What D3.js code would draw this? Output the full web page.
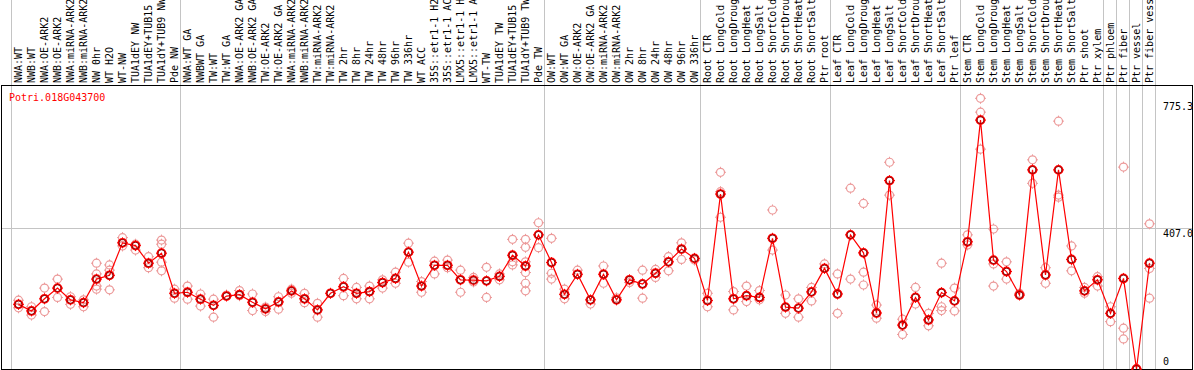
<!DOCTYPE html>
<html>
<head>
<meta charset="utf-8">
<script src="https://cdn.jsdelivr.net/npm/d3@7"></script>
<style>
  body { margin: 0; background: #fff; }
  svg text { font-family: "DejaVu Sans Mono", monospace; font-size: 10px; }
</style>
</head>
<body>
<div id="chart"></div>
<script>
// Sample labels (column headers)
var labels = [
  "NWA:WT", "NWB:WT", "NWA:OE-ARK2", "NWB:OE-ARK2", "NWA:miRNA-ARK2", "NWB:miRNA-ARK2",
  "NW 0hr", "WT H2O", "WT-NW", "TUA1dEY NW", "TUA1dEY+TUB15 NW", "TUA1dY+TUB9 NW", "Pde NW",
  "NWA:WT GA", "NWBWT GA", "TW:WT", "TW:WT GA", "NWA:OE-ARK2 GA", "NWB:OE-ARK2 GA",
  "TW:OE-ARK2", "TW:OE-ARK2 GA", "NWA:miRNA-ARK2 GA", "NWB:miRNA-ARK2 GA", "TW:miRNA-ARK2",
  "TW:miRNA-ARK2 GA", "TW 2hr", "TW 8hr", "TW 24hr", "TW 48hr", "TW 96hr", "TW 336hr",
  "WT ACC", "35S::etr1-1 H2O", "35S::etr1-1 ACC", "LMX5::etr1-1 H2O", "LMX5::etr1-1 ACC",
  "WT-TW", "TUA1dEY TW", "TUA1dEY+TUB15 TW", "TUA1dY+TUB9 TW", "Pde TW",
  "OW:WT", "OW:WT GA", "OW:OE-ARK2", "OW:OE-ARK2 GA", "OW:miRNA-ARK2", "OW:miRNA-ARK2 GA",
  "OW 2hr", "OW 8hr", "OW 24hr", "OW 48hr", "OW 96hr", "OW 336hr",
  "Root CTR", "Root LongCold", "Root LongDrought", "Root LongHeat", "Root LongSalt",
  "Root ShortCold", "Root ShortDrought", "Root ShortHeat", "Root ShortSalt", "Ptr root",
  "Leaf CTR", "Leaf LongCold", "Leaf LongDrought", "Leaf LongHeat", "Leaf LongSalt",
  "Leaf ShortCold", "Leaf ShortDrought", "Leaf ShortHeat", "Leaf ShortSalt", "Ptr leaf",
  "Stem CTR", "Stem LongCold", "Stem LongDrought", "Stem LongHeat", "Stem LongSalt",
  "Stem ShortCold", "Stem ShortDrought", "Stem ShortHeat", "Stem ShortSalt", "Ptr shoot", "Ptr xylem",
  "Ptr phloem", "Ptr fiber", "Ptr vessel", "Ptr fiber vessel"
];

// Mean expression per sample
var means = [
  187, 168, 203, 234, 200, 192, 260, 271, 365, 357, 306, 335, 219,
  222, 202, 184, 211, 215, 193, 174, 194, 226, 203, 171, 219, 238, 219, 224, 250, 262,
  338, 240, 300, 300, 258, 257, 255, 268, 329, 298, 388,
  308, 216, 274, 200, 274, 200, 258, 246, 277, 310, 347, 320,
  198, 506, 203, 212, 207, 378, 179, 176, 223, 291,
  217, 388, 336, 162, 545, 127, 207, 142, 221, 197,
  368, 720, 315, 282, 214, 576, 272, 576, 317, 226, 258,
  161, 262, 0, 306
];

// Individual replicate values per sample
var replicates = [
  [199, 177], [180, 156], [234, 166], [260, 207], [209, 187], [200, 180],
  [306, 275, 240, 231], [301, 286, 229], [380, 356], [361, 344], [325, 293],
  [373, 361, 309, 284], [231, 205],
  [240, 202], [217, 182], [202, 150], [214], [227, 212], [217, 169], [179, 166],
  [209, 173], [231, 219], [219, 192], [190, 150], [], [262, 212], [236, 203],
  [240, 203], [258, 234], [280, 248], [364, 309], [253, 222], [312, 275], [315, 293],
  [286, 222], [265, 252], [294, 207], [275, 258], [375, 310, 301],
  [375, 352, 310, 279, 248, 226], [423, 351],
  [378, 277, 260], [231, 203], [286], [188], [298, 248], [206], [250], [286, 205],
  [288, 265], [325, 284], [365, 317], [315],
  [219, 180], [569, 513, 439], [224, 171], [240, 195], [227, 200], [460, 344],
  [214, 161], [203, 150], [236, 197], [304],
  [275, 161], [523, 260], [479, 280, 243], [185, 147], [598, 503], [144, 100],
  [236, 188], [161, 125], [306, 180, 169], [234, 168],
  [388, 359], [783, 743, 636], [405, 304, 240], [310, 260], [219], [605, 537],
  [293, 248], [717, 503, 497], [356, 284], [236, 219], [267, 240],
  [180, 137], [584, 118, 87], [], [420, 291, 205]
];

// Index of the first sample of each tissue group (group separators)
var groupStarts = [0, 13, 41, 53, 63, 73, 84, 85, 86, 87, 88];

var axisValues = [775.3, 407.0, 0];
var geneName = "Potri.018G043700";

var svgWidth = 1194;
var svgHeight = 370;
var headerBottom = 85;

var svg = d3.select("#chart")
  .append("svg")
  .attr("width", svgWidth)
  .attr("height", svgHeight);

var x = d3.scaleBand()
  .domain(d3.range(labels.length))
  .range([11, 11 + 13 * labels.length]);

var y = d3.scaleLinear().domain([0, 407]).range([369, 228.3]);

function cx(i) { return x(i) + x.bandwidth() / 2 + 1; }

// Gray separators and the mid gridline
svg.selectAll(".sep")
  .data(groupStarts)
  .enter()
  .append("line")
  .attr("x1", function(d) { return d < labels.length ? x(d) + 0.5 : x(d - 1) + x.bandwidth() + 0.5; })
  .attr("x2", function(d) { return d < labels.length ? x(d) + 0.5 : x(d - 1) + x.bandwidth() + 0.5; })
  .attr("y1", 0)
  .attr("y2", svgHeight)
  .attr("stroke", "#c4c4c4");

svg.append("line")
  .attr("x1", 1).attr("x2", 1193)
  .attr("y1", Math.round(y(407)) + 0.5).attr("y2", Math.round(y(407)) + 0.5)
  .attr("stroke", "#c4c4c4");

// Black frame under the header
svg.append("rect")
  .attr("x", 1.5).attr("y", headerBottom + 0.5)
  .attr("width", 1191).attr("height", 369 - headerBottom)
  .attr("fill", "none")
  .attr("stroke", "#000");

// Column headers
svg.selectAll(".lbl")
  .data(labels)
  .enter()
  .append("text")
  .attr("transform", function(d, i) {
    return "translate(" + (x(i) + 10.5) + "," + (headerBottom - 2) + ") rotate(-90)";
  })
  .text(function(d) { return d; });

// Gene name
svg.append("text")
  .attr("x", 9).attr("y", 101)
  .attr("fill", "#ff0000")
  .text(geneName);

// Right-side value labels
svg.selectAll(".ax")
  .data(axisValues)
  .enter()
  .append("text")
  .attr("x", 1163)
  .attr("y", function(d) { return d === 0 ? y(d) - 4 : y(d) + 9; })
  .text(function(d) { return d === 0 ? "0" : d.toFixed(1); });

// Marker: small circle with tick marks
function marker(g, px, py, color, width) {
  g.append("circle")
    .attr("cx", px).attr("cy", py).attr("r", 4)
    .attr("fill", "none").attr("stroke", color).attr("stroke-width", width);
  [[0, -1], [0, 1], [-1, 0], [1, 0]].forEach(function(o) {
    g.append("line")
      .attr("x1", px + o[0] * 4).attr("y1", py + o[1] * 4)
      .attr("x2", px + o[0] * 5.5).attr("y2", py + o[1] * 5.5)
      .attr("stroke", color).attr("stroke-width", 1);
  });
}

// Replicates
var repG = svg.append("g");
replicates.forEach(function(reps, i) {
  reps.forEach(function(v) { marker(repG, cx(i), y(v), "#ec9a9a", 1.2); });
});

// Mean line
var line = d3.line()
  .x(function(d, i) { return cx(i); })
  .y(function(d) { return y(d); });

svg.append("path")
  .datum(means)
  .attr("d", line)
  .attr("fill", "none")
  .attr("stroke", "#ff0000")
  .attr("stroke-width", 1.2);

// Means
var meanG = svg.append("g");
means.forEach(function(v, i) {
  marker(meanG, cx(i), y(v), "#ff0000", 1.8);
  meanG.append("circle")
    .attr("cx", cx(i)).attr("cy", y(v)).attr("r", 3.4)
    .attr("fill", "none").attr("stroke", "#700000").attr("stroke-width", 0.8);
});
</script>
</body>
</html>
